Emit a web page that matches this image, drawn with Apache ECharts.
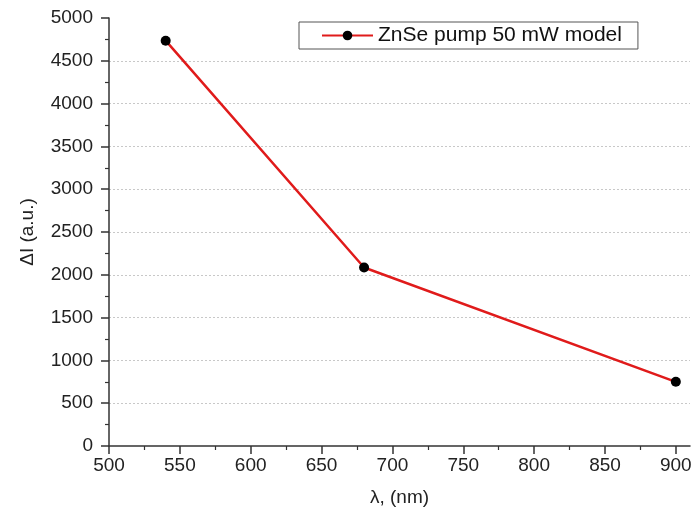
<!DOCTYPE html>
<html>
<head>
<meta charset="utf-8">
<script src="https://cdn.jsdelivr.net/npm/echarts@6/dist/echarts.min.js"></script>
<style>html,body{margin:0;padding:0;background:#fff}#c{width:695px;height:513px}</style>
</head>
<body>
<div id="c"></div>
<script>
var seriesName = 'ZnSe pump 50 mW model';
var wavelengths = [540, 680, 900];
var deltaI = [4735, 2085, 750];
var xMajorTicks = [500, 550, 600, 650, 700, 750, 800, 850, 900];
var xMinorTicks = [525, 575, 625, 675, 725, 775, 825, 875];
var xName = 'λ, (nm)';
var yName = 'ΔI (a.u.)';

var font = 'Liberation Sans, Arial, sans-serif';
var data = wavelengths.map(function (w, i) { return [w, deltaI[i]]; });
var chart = echarts.init(document.getElementById('c'), null, {renderer: 'canvas'});
chart.setOption({
  animation: false,
  backgroundColor: '#fff',
  grid: {left: 109, right: 5, top: 18, bottom: 67, containLabel: false},
  legend: {
    left: 299, top: 22,
    itemWidth: 51, itemHeight: 12,
    padding: [3, 16, 3, 22],
    borderColor: '#555', borderWidth: 1,
    textStyle: {fontSize: 21, color: '#111', fontFamily: font},
    data: [seriesName]
  },
  xAxis: [{
    type: 'value', min: 500, max: 910,
    name: xName, nameLocation: 'middle', nameGap: 42,
    nameTextStyle: {fontSize: 19, color: '#222', fontFamily: font},
    axisLine: {show: true, lineStyle: {color: '#333', width: 1.5}},
    axisTick: {show: true, length: 8, customValues: xMajorTicks, lineStyle: {color: '#333', width: 1.5}},
    axisLabel: {customValues: xMajorTicks, fontSize: 19, color: '#222', fontFamily: font, margin: 10,
      formatter: function (v) { return String(v); }},
    splitLine: {show: false}
  }, {
    type: 'value', min: 500, max: 910, position: 'bottom', gridIndex: 0,
    axisLine: {show: false},
    axisTick: {show: true, length: 4, customValues: xMinorTicks, lineStyle: {color: '#333', width: 1.2}},
    axisLabel: {show: false},
    splitLine: {show: false}
  }],
  yAxis: {
    type: 'value', min: 0, max: 5000, interval: 500,
    name: yName, nameLocation: 'middle', nameGap: 72, nameRotate: 90,
    nameTextStyle: {fontSize: 19, color: '#222', fontFamily: font},
    axisLine: {show: true, lineStyle: {color: '#333', width: 1.5}},
    axisTick: {show: true, length: 8, lineStyle: {color: '#333', width: 1.5}},
    minorTick: {show: true, splitNumber: 2, length: 4, lineStyle: {color: '#333', width: 1.2}},
    axisLabel: {fontSize: 19, color: '#222', fontFamily: font, margin: 16,
      formatter: function (v) { return String(v); }},
    splitLine: {show: true, showMinLine: false, showMaxLine: false, lineStyle: {color: '#c8c8c8', type: [2, 2], width: 1}}
  },
  series: [{
    name: seriesName,
    type: 'line',
    xAxisIndex: 0,
    data: data,
    symbol: 'circle', symbolSize: 10,
    lineStyle: {color: '#e01b1b', width: 2.5},
    itemStyle: {color: '#000'}
  }]
});
</script>
</body>
</html>
